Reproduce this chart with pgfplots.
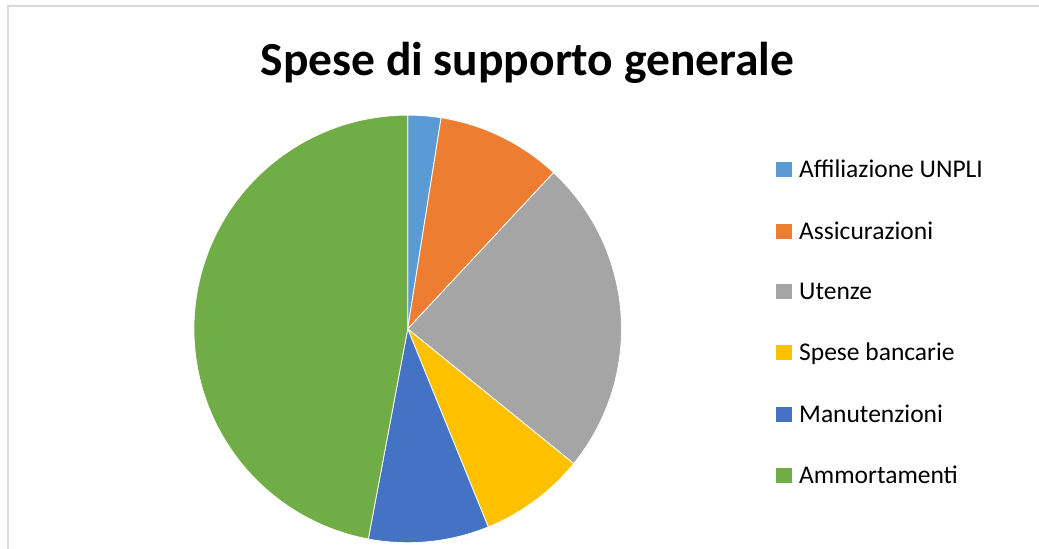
\documentclass[border=0pt]{standalone}
\usepackage{fontspec}
\setmainfont{Carlito}
\usepackage{pgfplots}
\usepackage{pgfplotstable}
\pgfplotsset{compat=1.18}

\definecolor{c0}{HTML}{5B9BD5}
\definecolor{c1}{HTML}{ED7D31}
\definecolor{c2}{HTML}{A5A5A5}
\definecolor{c3}{HTML}{FFC000}
\definecolor{c4}{HTML}{4472C4}
\definecolor{c5}{HTML}{70AD47}
\definecolor{frame}{HTML}{D9D9D9}

% share of each item, percent
\pgfplotstableread[col sep=comma]{
label,value
Affiliazione UNPLI,2.5
Assicurazioni,9.45
Utenze,23.9
Spese bancarie,8.0
Manutenzioni,9.1
Ammortamenti,47.05
}\spese

\begin{document}
\begin{tikzpicture}
    \fill[white] (0,0) rectangle (1039bp,549bp);
    \useasboundingbox (0,0) rectangle (1039bp,549bp);
    \draw[color=frame, line width=1.6bp] (8bp,-10bp) -- (8bp,542.7bp) -- (1050bp,542.7bp);
    % cumulative angles, clockwise from the top
    \xdef\cum{90}
    \foreach \i in {0,...,5}{%
        \pgfplotstablegetelem{\i}{value}\of\spese
        \pgfmathsetmacro\lo{\cum-3.6*\pgfplotsretval}
        \expandafter\xdef\csname hi\i\endcsname{\cum}
        \expandafter\xdef\csname lo\i\endcsname{\lo}
        \xdef\cum{\lo}
    }
    \begin{axis}[
        at={(407.7bp,220.1bp)}, anchor=center,
        scale only axis,
        width=427.6bp, height=427.6bp,
        xmin=-1, xmax=1, ymin=-1, ymax=1,
        hide axis,
        clip=false,
        title={Spese di supporto generale},
        title style={at={(axis description cs:0.780,1.078)}, anchor=base,
            font=\fontsize{47.5bp}{55bp}\selectfont\bfseries, inner sep=0pt},
        legend image code/.code={\fill[#1, draw=none] (0bp,-7.5bp) rectangle (16bp,7.5bp);},
        legend cell align=left,
        legend style={at={(axis description cs:1.3613,0.895)}, anchor=north west,
            draw=none, fill=none, inner sep=0pt, row sep=42.3bp,
            font=\fontsize{25.5bp}{29bp}\selectfont,
            nodes={inner xsep=7bp, inner ysep=0pt}},
        legend entries={Affiliazione UNPLI, Assicurazioni, Utenze, Spese bancarie, Manutenzioni, Ammortamenti},
    ]
    \pgfplotsinvokeforeach{0,...,5}{
        \addplot[fill=c#1, draw=white, line width=0.8bp, samples=80, variable=\t,
            domain={\csname lo#1\endcsname}:{\csname hi#1\endcsname}]
            ({cos(\t)}, {sin(\t)}) -- (axis cs:0,0) -- cycle;
    }
    \end{axis}
\end{tikzpicture}
\end{document}
